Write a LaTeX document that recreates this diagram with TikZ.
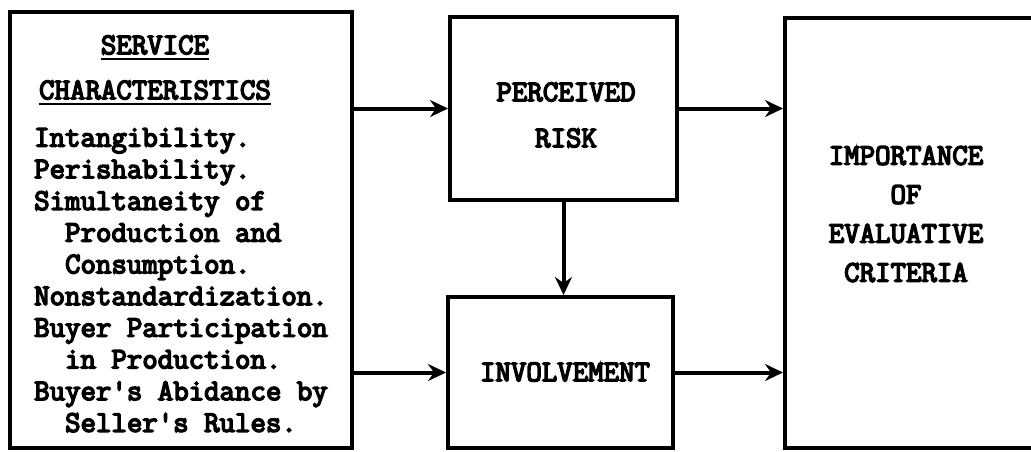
\documentclass[tikz,border=0pt]{standalone}
\usepackage{fontspec}
\newfontfamily\tw{Latin Modern Mono}[FakeBold=5]
\usetikzlibrary{arrows.meta}
\begin{document}
\begin{tikzpicture}[x=1pt,y=-1pt,
  box/.style={draw, line width=4pt, rectangle, inner sep=0pt},
  txt/.style={font=\tw\fontsize{30}{32}\selectfont, inner sep=0pt, align=center},
  lst/.style={font=\tw\fontsize{30}{31.7}\selectfont, inner sep=0pt, align=left},
  arr/.style={line width=4pt, -{Stealth[length=18pt,width=17pt,inset=6pt]}},
  ul/.style={line width=2.5pt}]
\useasboundingbox (0,0) rectangle (1031,451);
\clip (0,0) rectangle (1031,451);
% boxes
\node[box, minimum width=342pt, minimum height=436pt] (sc) at (181,230) {};
\node[box, minimum width=227pt, minimum height=183pt] (pr) at (563.5,108.5) {};
\node[box, minimum width=225pt, minimum height=151pt] (inv) at (560.5,372.5) {};
\node[box, minimum width=249pt, minimum height=430pt] (ic) at (909.5,233) {};
% texts
\node[txt] (sv) at (155,45) {SERVICE};
\node[txt] (ch) at (155,90) {CHARACTERISTICS};
\draw[ul] ([yshift=-5pt]sv.base west) -- ([yshift=-5pt]sv.base east);
\draw[ul] ([yshift=-5pt]ch.base west) -- ([yshift=-5pt]ch.base east);
\node[lst, anchor=north west] (list) at (34,128) {Intangibility.\\
Perishability.\\
Simultaneity of\\
\phantom{xx}Production and\\
\phantom{xx}Consumption.\\
Nonstandardization.\\
Buyer Participation\\
\phantom{xx}in Production.\\
Buyer's Abidance by\\
\phantom{xx}Seller's Rules.};
\node[txt, font=\tw\fontsize{30}{46}\selectfont] (prt) at (566,115) {PERCEIVED\\RISK};
\node[txt] (invt) at (565,372) {INVOLVEMENT};
\node[txt, font=\tw\fontsize{30}{39}\selectfont] (ict) at (906,214) {IMPORTANCE\\OF\\EVALUATIVE\\CRITERIA};
% connectors
\draw[arr] (sc.east |- pr.west) -- (pr.west);
\draw[arr] (sc.east |- inv.west) -- (inv.west);
\draw[arr] (pr.south) -- (pr.south |- inv.north);
\draw[arr] (pr.east) -- (ic.west |- pr.east);
\draw[arr] (inv.east) -- (ic.west |- inv.east);
\end{tikzpicture}
\end{document}
